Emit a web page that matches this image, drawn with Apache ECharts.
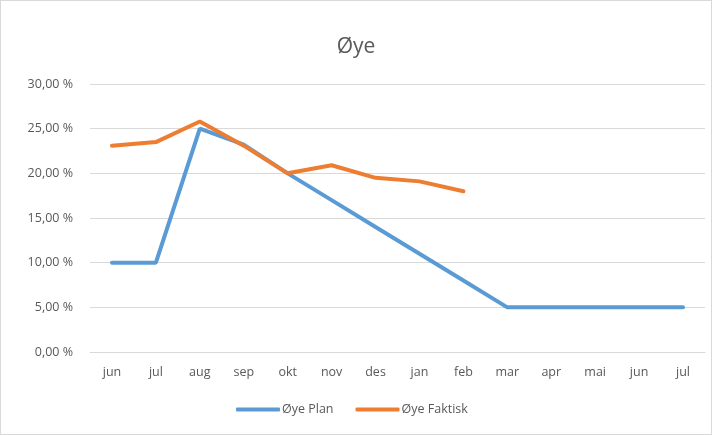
<!DOCTYPE html>
<html>
<head>
<meta charset="utf-8">
<script src="https://cdn.jsdelivr.net/npm/echarts@6/dist/echarts.min.js"></script>
<style>
  html, body { margin: 0; padding: 0; background: #fff; }
  #chart { width: 710px; height: 433px; border: 1px solid #d9d9d9; }
</style>
</head>
<body>
<div id="chart"></div>
<script>
// kategorier og verdier (prosent)
var months = ['jun', 'jul', 'aug', 'sep', 'okt', 'nov', 'des', 'jan', 'feb', 'mar', 'apr', 'mai', 'jun', 'jul'];
var planValues = [10, 10, 25, 23.2, 20, 17, 14, 11, 8, 5, 5, 5, 5, 5];
var faktiskValues = [23.1, 23.5, 25.8, 23.1, 20, 20.9, 19.5, 19.1, 18.0];
var yTicks = [0, 5, 10, 15, 20, 25, 30];

var chart = echarts.init(document.getElementById('chart'));
var fontName = '"Open Sans", "Noto Sans", sans-serif';

var option = {
    animation: false,
    title: {
        text: 'Øye',
        left: 'center',
        top: 31,
        textStyle: { fontFamily: fontName, fontSize: 21, fontWeight: 'normal', color: '#595959' }
    },
    legend: {
        bottom: 13,
        left: 230,
        itemWidth: 44,
        itemHeight: 4,
        itemGap: 22,
        icon: 'roundRect',
        textStyle: { fontFamily: fontName, fontSize: 12.5, color: '#595959', padding: [0, 0, 0, -3] },
        data: ['Øye Plan', 'Øye Faktisk']
    },
    grid: { left: 89, right: 6, top: 83, bottom: 82 },
    xAxis: {
        type: 'category',
        data: months,
        axisLine: { lineStyle: { color: '#d9d9d9' } },
        axisTick: { show: false },
        axisLabel: { fontFamily: fontName, fontSize: 12.5, color: '#595959', margin: 14 }
    },
    yAxis: {
        type: 'value',
        min: yTicks[0],
        max: yTicks[yTicks.length - 1],
        interval: 5,
        axisLine: { show: false },
        axisTick: { show: false },
        splitLine: { lineStyle: { color: '#d9d9d9' } },
        axisLabel: {
            fontFamily: fontName, fontSize: 12.5, color: '#595959', margin: 17,
            formatter: function (v) { return v.toFixed(2).replace('.', ',') + ' %'; }
        }
    },
    series: [
        {
            name: 'Øye Plan',
            type: 'line',
            data: planValues,
            symbol: 'none',
            lineStyle: { color: '#5b9bd5', width: 4, cap: 'round' },
            itemStyle: { color: '#5b9bd5' }
        },
        {
            name: 'Øye Faktisk',
            type: 'line',
            data: faktiskValues,
            symbol: 'none',
            lineStyle: { color: '#ed7d31', width: 4, cap: 'round' },
            itemStyle: { color: '#ed7d31' }
        }
    ]
};

chart.setOption(option);
</script>
</body>
</html>
